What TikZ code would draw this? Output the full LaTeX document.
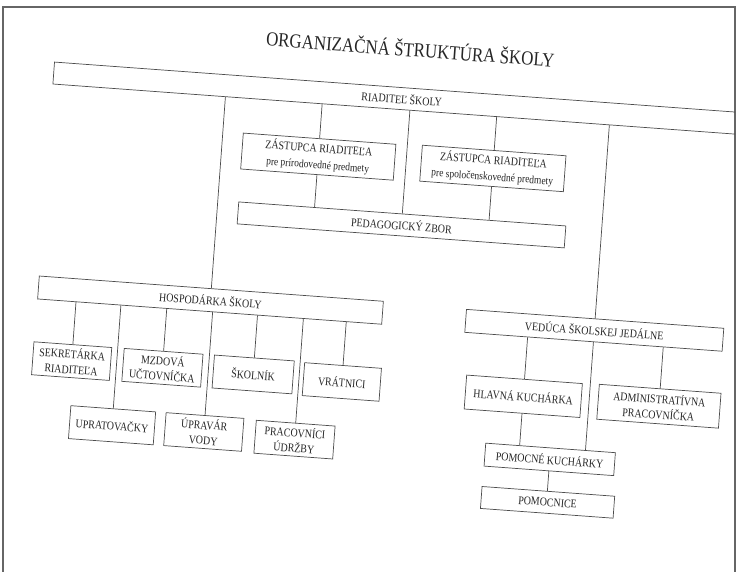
\documentclass[tikz,border=0pt]{standalone}
\usepackage{fontspec}
\setmainfont{Liberation Serif}[FakeStretch=0.85]
\usetikzlibrary{calc}
\tikzset{
	box/.style 2 args={draw=black!70,line width=0.6pt,text=black!85,inner sep=0pt,align=center,
		minimum width=#1*0.3mm,minimum height=#2*0.3mm,font=\fontsize{10}{13}\selectfont},
	link/.style={draw=black!70,line width=0.6pt},
}

\begin{document}
\begin{tikzpicture}[x=0.3mm,y=-0.3mm]
	\useasboundingbox[fill=white] (0,0) rectangle (737,572);
	\draw[black!60,line width=1.2pt] (3,572) -- (3,7) -- (735,7) -- (735,572);
	\begin{scope}
		\clip (3,7) rectangle (735,572);
		\begin{scope}[rotate around={-4.2:(400,300)},transform shape]
			\node (title) at (392,48) [font=\fontsize{17}{20}\selectfont,text=black!85] {ORGANIZAČNÁ ŠTRUKTÚRA ŠKOLY};
			\node (riad) at (387,99) [box={698}{22}] {RIADITEĽ ŠKOLY};
			
			\node (zast1) at (308,163) [box={153}{36}] {ZÁSTUPCA RIADITEĽA\\[1pt]{\fontsize{9.5}{11}\selectfont pre prírodovedné predmety}};
			\node (zast2) at (483,162) [box={144}{36}] {ZÁSTUPCA RIADITEĽA\\[1pt]{\fontsize{9.5}{11}\selectfont pre spoločenskovedné predmety}};
			\node (ped) at (396,225) [box={328}{22}] {PEDAGOGICKÝ ZBOR};
			
			\node (hosp) at (211,314) [box={345}{23}] {HOSPODÁRKA ŠKOLY};
			\node (sekr) at (77,385) [box={78}{33}] {SEKRETÁRKA\\RIADITEĽA};
			\node (mzd) at (168,385) [box={79}{33}] {MZDOVÁ\\UČTOVNÍČKA};
			\node (skol) at (259,385) [box={80}{33}] {ŠKOLNÍK};
			\node (vrat) at (348,386) [box={77}{33}] {VRÁTNICI};
			\node (uprat) at (122,446) [box={85}{33}] {UPRATOVAČKY};
			\node (uprav) at (214,446) [box={78}{33}] {ÚPRAVÁR\\VODY};
			\node (prac) at (305,447) [box={79}{33}] {PRACOVNÍCI\\ÚDRŽBY};
			
			\node (ved) at (596,316) [box={258}{23}] {VEDÚCA ŠKOLSKEJ JEDÁLNE};
			\node (hlav) at (530,387) [box={116}{34}] {HLAVNÁ KUCHÁRKA};
			\node (admin) at (666,387) [box={122}{35}] {ADMINISTRATÍVNA\\PRACOVNÍČKA};
			\node (pomk) at (561,448) [box={130}{23}] {POMOCNÉ KUCHÁRKY};
			\node (pomc) at (562,491) [box={133}{22}] {POMOCNICE};
			
			% riaditel
			\draw[link] (zast1.north) -- ($(riad.south west)!(zast1.north)!(riad.south east)$);
			\draw[link] (zast2.north) -- ($(riad.south west)!(zast2.north)!(riad.south east)$);
			\draw[link] (ped.north) -- ($(riad.south west)!(ped.north)!(riad.south east)$);
			\draw[link] (hosp.north) -- ($(riad.south west)!(hosp.north)!(riad.south east)$);
			\draw[link] (ved.north) -- ($(riad.south west)!(ved.north)!(riad.south east)$);
			\draw[link] (zast1.south) -- ($(ped.north west)!(zast1.south)!(ped.north east)$);
			\draw[link] (zast2.south) -- ($(ped.north west)!(zast2.south)!(ped.north east)$);
			
			% hospodarka
			\foreach \n in {sekr,mzd,skol,vrat,uprat,uprav,prac}
				\draw[link] (\n.north) -- ($(hosp.south west)!(\n.north)!(hosp.south east)$);
			
			% jedalen
			\draw[link] (hlav.north) -- ($(ved.south west)!(hlav.north)!(ved.south east)$);
			\draw[link] (admin.north) -- ($(ved.south west)!(admin.north)!(ved.south east)$);
			\draw[link] (ved.south) -- ($(pomk.north west)!(ved.south)!(pomk.north east)$);
			\draw[link] (hlav.south) -- ($(pomk.north west)!(hlav.south)!(pomk.north east)$);
			\draw[link] (pomk.south) -- ($(pomc.north west)!(pomk.south)!(pomc.north east)$);
		\end{scope}
	\end{scope}
\end{tikzpicture}
\end{document}
